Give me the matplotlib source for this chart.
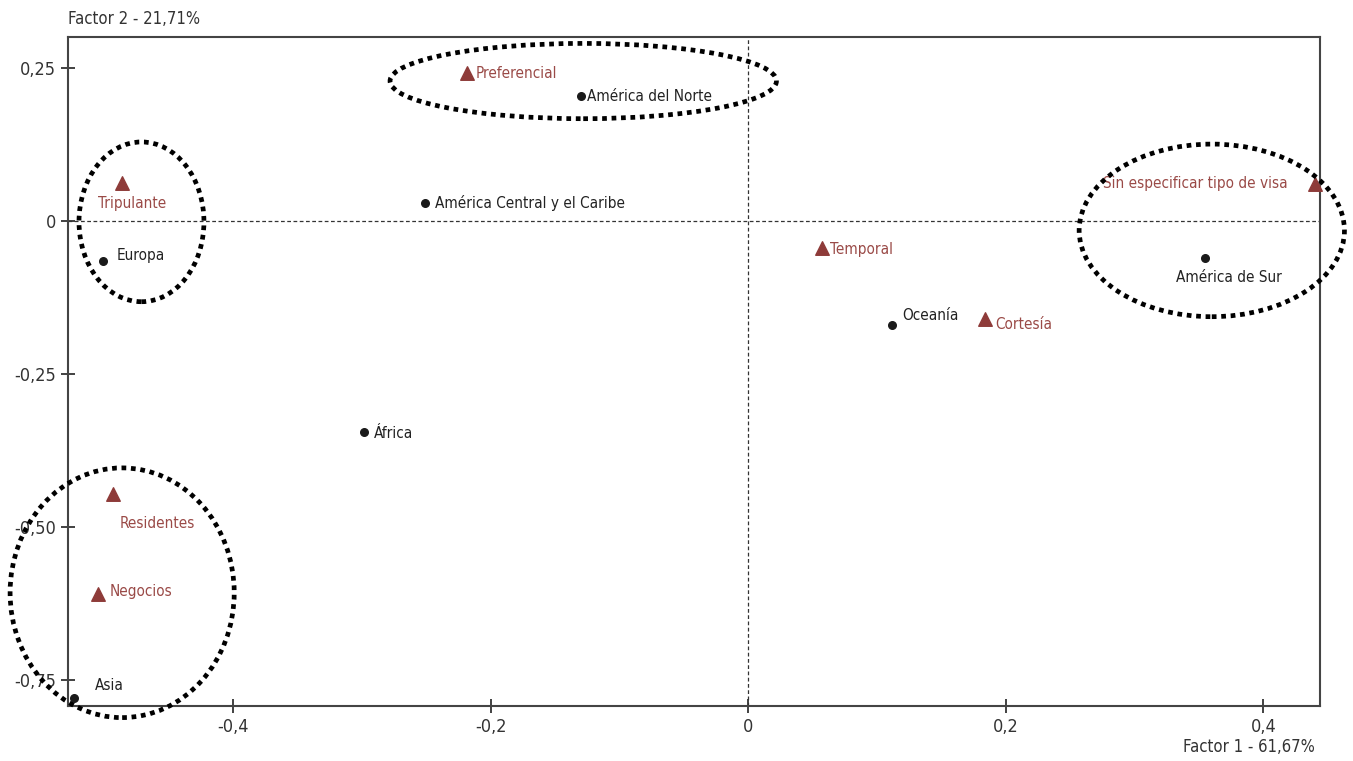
import matplotlib.pyplot as plt
from matplotlib import font_manager
from matplotlib.patches import Ellipse
from matplotlib.ticker import FuncFormatter

# fuente angosta si existe, si no Liberation Sans mas chica
disponibles = {(f.name, f.stretch) for f in font_manager.fontManager.ttflist}
nombres = {n for n, _ in disponibles}
if "Liberation Sans Narrow" in nombres:
    plt.rcParams['font.family'] = ['Liberation Sans Narrow', 'DejaVu Sans']
    FS = 13
elif ("DejaVu Sans", "condensed") in disponibles or ("DejaVu Sans", "semi-condensed") in disponibles:
    plt.rcParams['font.family'] = ['DejaVu Sans']
    plt.rcParams['font.stretch'] = 'condensed'
    FS = 11
else:
    plt.rcParams['font.family'] = ['Liberation Sans', 'DejaVu Sans']
    FS = 11.5

# regiones (puntos negros)
regiones = ["América del Norte", "América Central y el Caribe", "Europa", "África",
            "Asia", "Oceanía", "América de Sur"]
reg_x = [-0.130, -0.251, -0.501, -0.298, -0.523, 0.112, 0.355]
reg_y = [0.203, 0.028, -0.066, -0.346, -0.780, -0.170, -0.061]

# tipos de visa (triangulos)
visas = ["Preferencial", "Tripulante", "Temporal", "Cortesía",
         "Sin especificar tipo de visa", "Residentes", "Negocios"]
vis_x = [-0.218, -0.486, 0.057, 0.184, 0.440, -0.493, -0.505]
vis_y = [0.241, 0.062, -0.044, -0.161, 0.059, -0.446, -0.610]

x_ticks = [-0.4, -0.2, 0, 0.2, 0.4]
y_ticks = [0.25, 0, -0.25, -0.5, -0.75]

ROJO = "#8e3b39"
TXT_ROJO = "#9a4a47"

# desplazamiento de etiquetas en pixeles (dx, dy, ha)
off_reg = [(6, 0, "left"), (10, 0, "left"), (14, 6, "left"), (10, -1, "left"),
           (20, 13, "left"), (10, 9, "left"), (24, -20, "center")]
off_vis = [(8, 0, "left"), (10, -21, "center"), (8, -2, "left"), (10, -5, "left"),
           (-27, 1, "right"), (6, -30, "left"), (12, 2, "left")]

# elipses: (cx, cy, ancho, alto)
elipses = [(-0.128, 0.228, 0.300, 0.123),
           (-0.471, -0.002, 0.097, 0.261),
           (-0.486, -0.608, 0.174, 0.408),
           (0.360, -0.016, 0.206, 0.282)]

fig = plt.figure(figsize=(13.53, 7.61), dpi=100)
ax = fig.add_axes([0.0503, 0.0723, 0.9253, 0.8791])
ax.set_xlim(-0.528, 0.444)
ax.set_ylim(-0.793, 0.300)

ax.axhline(0, color="#333333", lw=0.9, ls=(0, (3, 2)), zorder=1)
ax.axvline(0, color="#333333", lw=0.9, ls=(0, (3, 2)), zorder=1)

ax.scatter(reg_x, reg_y, s=30, color="#1a1a1a", marker="o", zorder=3, clip_on=False)
ax.scatter(vis_x, vis_y, s=95, color=ROJO, marker="^", zorder=3, clip_on=False)

for nom, x, y, (dx, dy, ha) in zip(regiones, reg_x, reg_y, off_reg):
    ax.annotate(nom, (x, y), xytext=(dx, dy), textcoords="offset pixels",
                ha=ha, va="center", fontsize=FS, color="#222222")
for nom, x, y, (dx, dy, ha) in zip(visas, vis_x, vis_y, off_vis):
    ax.annotate(nom, (x, y), xytext=(dx, dy), textcoords="offset pixels",
                ha=ha, va="center", fontsize=FS, color=TXT_ROJO)

for cx, cy, w, h in elipses:
    ax.add_patch(Ellipse((cx, cy), w, h, fill=False, ec="black", lw=3.4,
                         ls=(0, (1, 1.0)), clip_on=False, zorder=4))

fmt = FuncFormatter(lambda v, p: "0" if abs(v) < 1e-9 else f"{v:g}".replace(".", ","))
fmt_y = FuncFormatter(lambda v, p: "0" if abs(v) < 1e-9 else f"{v:.2f}".replace(".", ","))
ax.set_xticks(x_ticks)
ax.set_yticks(y_ticks)
ax.xaxis.set_major_formatter(fmt)
ax.yaxis.set_major_formatter(fmt_y)
ax.tick_params(direction="inout", length=10, width=1.3, colors="#333333",
               labelsize=FS + 2, labelcolor="#333333")
for s in ax.spines.values():
    s.set_color("#444444")
    s.set_linewidth(1.5)

fig.text(0.0503, 0.975, "Factor 2 - 21,71%", ha="left", va="center",
         fontsize=FS + 1, color="#333333")
fig.text(0.972, 0.018, "Factor 1 - 61,67%", ha="right", va="center",
         fontsize=FS + 1, color="#333333")

fig.savefig("out.png", dpi=100)
